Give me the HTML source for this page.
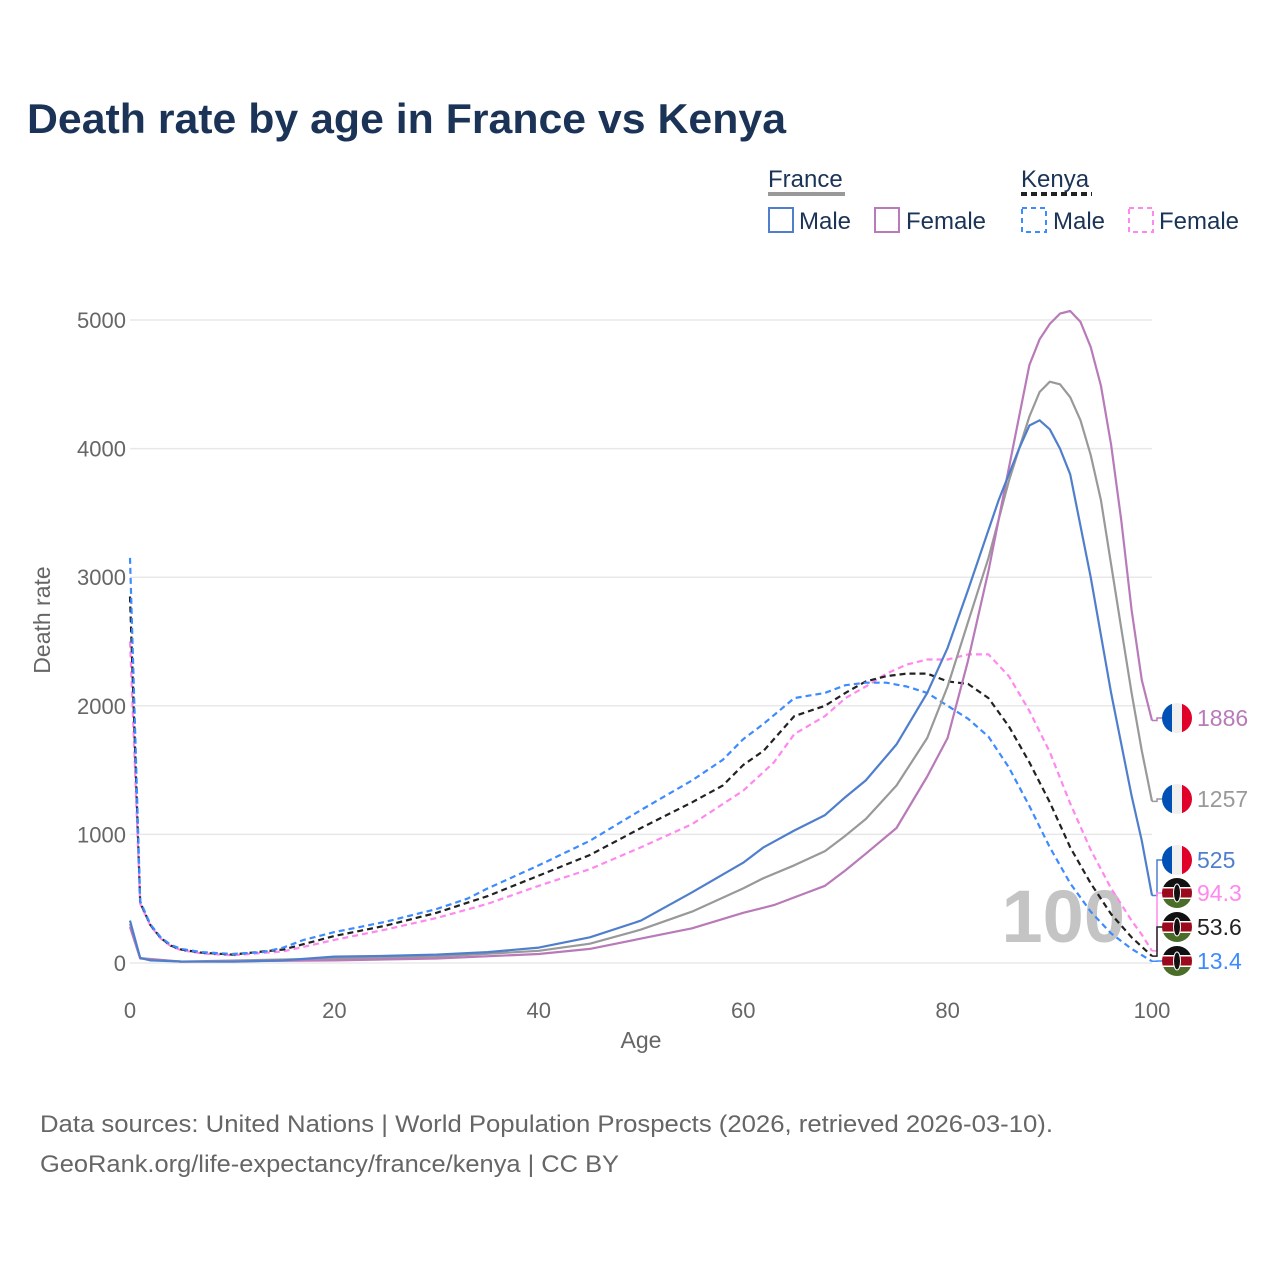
<!DOCTYPE html>
<html><head><meta charset="utf-8">
<style>
html,body{margin:0;padding:0;background:#fff;}
body{width:1280px;height:1280px;overflow:hidden;font-family:"Liberation Sans",sans-serif;}
svg text{font-family:"Liberation Sans",sans-serif;}
</style></head>
<body>
<svg id="chart" width="1280" height="1280" viewBox="0 0 1280 1280" xmlns="http://www.w3.org/2000/svg">
<text x="27" y="133" font-size="42" font-weight="bold" fill="#1a3356" textLength="759" lengthAdjust="spacingAndGlyphs">Death rate by age in France vs Kenya</text>
<g>
  <text x="768" y="187" font-size="24" fill="#1a3356">France</text>
  <line x1="768" y1="194" x2="845" y2="194" stroke="#999" stroke-width="4"/>
  <text x="1021" y="187" font-size="24" fill="#1a3356">Kenya</text>
  <line x1="1021" y1="194" x2="1092" y2="194" stroke="#222" stroke-width="4" stroke-dasharray="6,4"/>
  <g><rect x="769" y="208" width="24" height="24" fill="none" stroke="#4f7fcc" stroke-width="2"/><text x="799" y="229" font-size="24" fill="#1a3356">Male</text></g>
  <g><rect x="875" y="208" width="24" height="24" fill="none" stroke="#b87ab8" stroke-width="2"/><text x="906" y="229" font-size="24" fill="#1a3356">Female</text></g>
  <g><rect x="1022" y="208" width="24" height="24" fill="none" stroke="#3d8bff" stroke-width="2" stroke-dasharray="5,4"/><text x="1053" y="229" font-size="24" fill="#1a3356">Male</text></g>
  <g><rect x="1129" y="208" width="24" height="24" fill="none" stroke="#ff88ee" stroke-width="2" stroke-dasharray="5,4"/><text x="1159" y="229" font-size="24" fill="#1a3356">Female</text></g>
</g>
<g id="grid"></g>
<text x="1125" y="942" font-size="74" font-weight="bold" fill="#c4c4c4" text-anchor="end">100</text>
<g id="series"></g>
<g id="labels"></g>
<text transform="translate(50,620) rotate(-90)" font-size="23" fill="#666" text-anchor="middle">Death rate</text>
<text x="641" y="1048" font-size="23" fill="#666" text-anchor="middle">Age</text>
<text x="40" y="1132" font-size="24" fill="#666" textLength="1013" lengthAdjust="spacingAndGlyphs">Data sources: United Nations | World Population Prospects (2026, retrieved 2026-03-10).</text>
<text x="40" y="1172" font-size="24" fill="#666" textLength="579" lengthAdjust="spacingAndGlyphs">GeoRank.org/life-expectancy/france/kenya | CC BY</text>
</svg>
<script>
const xTicks=[0,20,40,60,80,100];
const yTicks=[0,1000,2000,3000,4000,5000];
const frMaleAges=[0,1,2,5,10,15,20,25,30,35,40,45,50,55,60,62,65,68,70,72,75,78,80,82,85,87,88,89,90,91,92,94,96,98,99,100];
const frMaleVals=[330,40,20,12,10,20,50,55,65,85,120,200,330,550,780,900,1030,1150,1290,1420,1700,2100,2450,2900,3600,4000,4180,4220,4150,4000,3800,3000,2100,1300,950,525];
const frFemaleAges=[0,1,5,20,30,40,45,50,55,60,63,65,68,70,72,75,78,80,82,84,86,88,89,90,91,92,93,94,95,96,97,98,99,100];
const frFemaleVals=[280,35,10,20,35,70,110,190,270,390,450,510,600,720,850,1050,1450,1750,2350,3050,3850,4650,4850,4970,5050,5070,4985,4790,4490,4030,3440,2745,2200,1886];
const frTotalAges=[0,1,5,20,30,40,45,50,55,60,62,65,68,70,72,75,78,80,82,84,86,88,89,90,91,92,93,94,95,96,97,98,99,100];
const frTotalVals=[305,38,11,35,50,95,150,260,400,580,660,760,870,990,1120,1380,1750,2150,2650,3150,3750,4250,4440,4520,4500,4400,4220,3950,3600,3100,2600,2100,1650,1257];
const keMaleAges=[0,1,2,3,4,5,7,10,13,15,17,20,25,30,33,35,40,45,50,55,58,60,62,65,68,70,72,74,76,78,80,82,84,86,88,90,92,94,96,98,100];
const keMaleVals=[3150,480,300,200,140,110,85,70,85,120,180,240,320,420,500,580,760,950,1190,1420,1580,1740,1860,2060,2100,2160,2180,2180,2150,2100,2000,1900,1760,1520,1220,900,620,400,230,110,13.4];
const keFemaleAges=[0,1,2,3,4,5,7,10,15,20,25,30,35,40,45,50,55,60,63,65,68,70,72,74,76,78,80,82,84,86,88,90,92,94,96,98,99,100];
const keFemaleVals=[2500,460,290,190,130,100,75,60,90,180,260,350,460,600,730,900,1080,1340,1560,1780,1920,2060,2150,2250,2320,2360,2360,2400,2400,2230,1960,1640,1240,880,580,330,220,94.3];
const keTotalAges=[0,1,2,3,4,5,7,10,15,20,25,30,35,40,45,50,55,58,60,62,65,68,70,72,74,76,78,80,82,84,86,88,90,92,94,96,98,100];
const keTotalVals=[2850,470,295,195,135,105,80,65,105,210,290,390,520,680,840,1050,1250,1380,1540,1650,1920,2000,2100,2190,2230,2250,2250,2190,2170,2060,1840,1560,1250,900,620,380,200,53.6];
const endLabels=["1886","1257","525","94.3","53.6","13.4"];

const NS="http://www.w3.org/2000/svg";
const X0=130,X1=1152,Y0=963,Y1=320;
function xs(a){return X0+(X1-X0)*a/100;}
function ys(v){return Y0-(Y0-Y1)*v/5000;}
function mk(tag,attrs,parent){const e=document.createElementNS(NS,tag);for(const k in attrs)e.setAttribute(k,attrs[k]);parent.appendChild(e);return e;}
const grid=document.getElementById('grid');
yTicks.forEach(t=>{
  const l=mk('line',{x1:X0,x2:X1,y1:ys(t),y2:ys(t),stroke:'#e8e8e8','stroke-width':1.5},grid);
  
  
  const tx=mk('text',{x:126,y:ys(t)+8,'font-size':22,fill:'#666','text-anchor':'end'},grid);
  tx.textContent=t;
  
  
});
xTicks.forEach(t=>{
  const tx=mk('text',{x:xs(t),y:1018,'font-size':22,fill:'#666','text-anchor':'middle'},grid);
  tx.textContent=t;
  
  
});
const series=[
 {a:keFemaleAges,v:keFemaleVals,c:'#ff88ee',d:'6,4',n:'line-kenya-female'},
 {a:keTotalAges,v:keTotalVals,c:'#222',d:'6,4',n:'line-kenya-total'},
 {a:keMaleAges,v:keMaleVals,c:'#3d8bff',d:'6,4',n:'line-kenya-male'},
 {a:frTotalAges,v:frTotalVals,c:'#999',d:'',n:'line-france-total'},
 {a:frFemaleAges,v:frFemaleVals,c:'#b87ab8',d:'',n:'line-france-female'},
 {a:frMaleAges,v:frMaleVals,c:'#4f7fcc',d:'',n:'line-france-male'}
];
const sg=document.getElementById('series');
series.forEach(s=>{
  const pts=s.a.map((a,i)=>xs(a).toFixed(1)+','+ys(s.v[i]).toFixed(1)).join(' ');
  const p=mk('polyline',{points:pts,fill:'none',stroke:s.c,'stroke-width':2.2,'stroke-linejoin':'round'},sg);
  if(s.d)p.setAttribute('stroke-dasharray',s.d);
  
  
});
const lg=document.getElementById('labels');
const lab=[
 {v:frFemaleVals[frFemaleVals.length-1],ly:718,c:'#b87ab8',f:'fr',n:'end-label-france-female',t:endLabels[0]},
 {v:frTotalVals[frTotalVals.length-1],ly:799,c:'#999',f:'fr',n:'end-label-france-total',t:endLabels[1]},
 {v:frMaleVals[frMaleVals.length-1],ly:860,c:'#4f7fcc',f:'fr',n:'end-label-france-male',t:endLabels[2]},
 {v:keFemaleVals[keFemaleVals.length-1],ly:893,c:'#ff88ee',f:'ke',n:'end-label-kenya-female',t:endLabels[3]},
 {v:keTotalVals[keTotalVals.length-1],ly:927,c:'#222',f:'ke',n:'end-label-kenya-total',t:endLabels[4]},
 {v:keMaleVals[keMaleVals.length-1],ly:961,c:'#3d8bff',f:'ke',n:'end-label-kenya-male',t:endLabels[5]}
];
lab.forEach(L=>{
  const g=mk('g',{},lg);
  
  
  mk('polyline',{points:`${X1},${ys(L.v)} ${X1+5},${ys(L.v)} ${X1+5},${L.ly} ${X1+12},${L.ly}`,fill:'none',stroke:L.c,'stroke-width':1.5},g);
  const cx=1177,cy=L.ly,r=15;
  const id='clip'+L.n;
  const cp=mk('clipPath',{id:id},g);mk('circle',{cx:cx,cy:cy,r:r},cp);
  const fg=mk('g',{'clip-path':`url(#${id})`},g);
  if(L.f==='fr'){
    mk('rect',{x:cx-r,y:cy-r,width:10,height:30,fill:'#0050b5'},fg);
    mk('rect',{x:cx-5,y:cy-r,width:10,height:30,fill:'#f0f0f0'},fg);
    mk('rect',{x:cx+5,y:cy-r,width:10,height:30,fill:'#e0002a'},fg);
  }else{
    mk('rect',{x:cx-r,y:cy-r,width:30,height:10,fill:'#111'},fg);
    mk('rect',{x:cx-r,y:cy-5,width:30,height:10,fill:'#9b0a1c'},fg);
    mk('rect',{x:cx-r,y:cy+5,width:30,height:10,fill:'#4a6e2a'},fg);
    mk('rect',{x:cx-r,y:cy-6,width:30,height:1.5,fill:'#fff'},fg);
    mk('rect',{x:cx-r,y:cy+4.5,width:30,height:1.5,fill:'#fff'},fg);
    mk('ellipse',{cx:cx,cy:cy,rx:3.5,ry:9,fill:'#111',stroke:'#fff','stroke-width':1},fg);
  }
  const t=mk('text',{x:1197,y:L.ly+8,'font-size':23,fill:L.c},g);
  t.textContent=L.t;
});
</script>
</body></html>
